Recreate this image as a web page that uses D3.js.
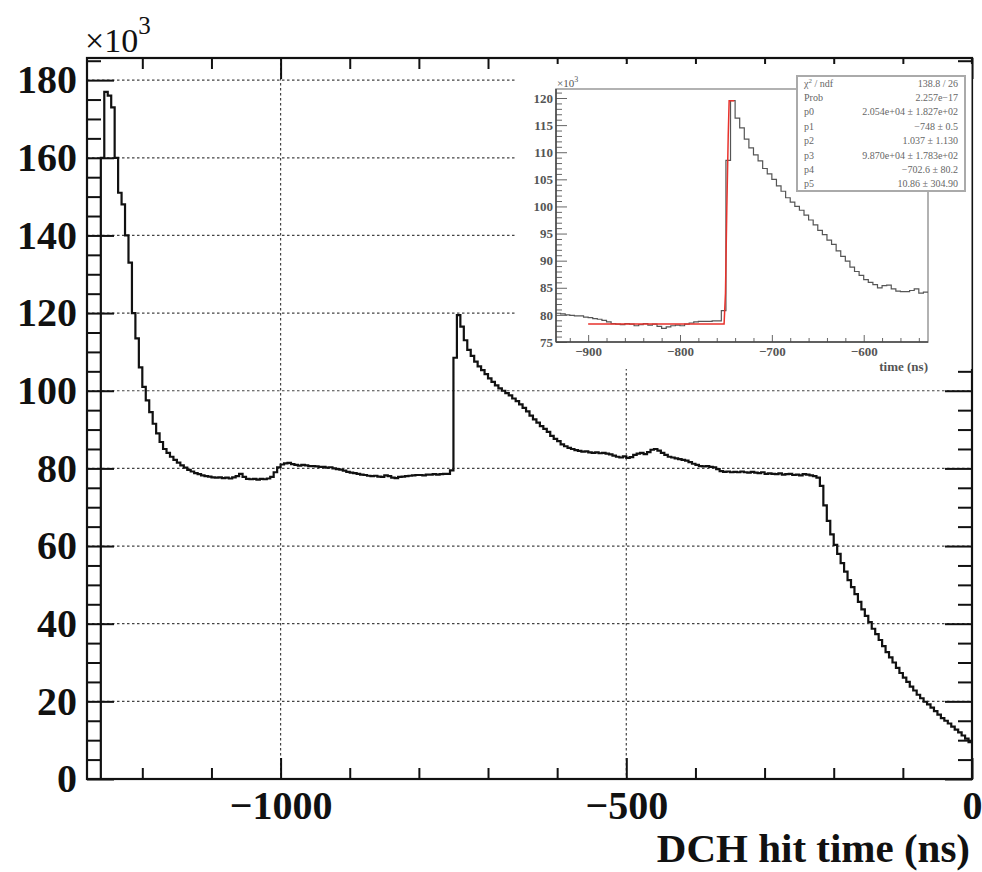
<!DOCTYPE html>
<html>
<head>
<meta charset="utf-8">
<script src="https://cdnjs.cloudflare.com/ajax/libs/d3/7.8.5/d3.min.js"></script>
<style>
body { margin: 0; background: #fff; }
</style>
</head>
<body>
<div id="chart"></div>
<script>
// main histogram, 5 ns bins starting at -1280 ns, counts in units of 10^3
var mainStart = -1280;
var mainBinWidth = 5;
var mainCounts = [
    0, 0, 0, 0, 160, 177, 176, 173, 160, 151,
    148, 140, 133, 120, 113.5, 106, 101, 97.5, 94.5, 91.5,
    89, 86.8, 85.0, 84.0, 83.0, 82.2, 81.5, 80.8, 80.2, 79.6,
    79.2, 78.8, 78.5, 78.2, 78.0, 77.9, 77.7, 77.6, 77.7, 77.5,
    77.6, 77.4, 77.7, 78.0, 78.6, 77.8, 77.3, 77.2, 77.3, 77.1,
    77.3, 77.2, 77.4, 77.8, 79.0, 80.3, 81.0, 81.3, 81.4, 81.1,
    80.9, 80.7, 80.9, 80.8, 80.6, 80.6, 80.5, 80.4, 80.4, 80.2,
    80.3, 80.0, 79.8, 79.7, 79.4, 79.1, 78.9, 78.8, 78.6, 78.4,
    78.3, 78.1, 78.0, 78.1, 77.9, 77.8, 78.2, 78.0, 77.6, 77.5,
    77.8, 77.9, 78.0, 78.1, 78.2, 78.3, 78.3, 78.2, 78.4, 78.4,
    78.5, 78.4, 78.5, 78.6, 78.6, 79.5, 108.5, 119.5, 116.5, 113,
    110.5, 109, 107.5, 106.3, 105.3, 104.3, 103.2, 102.3, 101.4, 100.6,
    100.0, 99.4, 98.8, 98.0, 97.3, 96.5, 95.6, 94.7, 93.6, 92.6,
    91.8, 90.9, 90.2, 89.4, 88.4, 87.6, 87.0, 86.2, 85.7, 85.3,
    85.0, 84.7, 84.5, 84.3, 84.4, 84.1, 84.0, 84.1, 83.9, 84.0,
    83.8, 83.6, 83.3, 83.0, 82.8, 83.1, 82.7, 82.9, 83.5, 83.8,
    84.0, 83.7, 84.2, 84.8, 85.0, 84.6, 84.0, 83.5, 83.0, 82.8,
    82.6, 82.4, 82.2, 82.0, 81.6, 81.2, 80.9, 80.6, 80.5, 80.6,
    80.4, 80.3, 79.8, 79.3, 79.1, 79.2, 79.0, 79.1, 79.0, 79.2,
    79.0, 78.9, 79.1, 78.9, 78.8, 79.0, 78.6, 78.7, 78.6, 78.5,
    78.7, 78.4, 78.5, 78.6, 78.3, 78.4, 78.2, 78.5, 78.4, 78.2,
    78.0, 77.6, 75.5, 70.5, 66.5, 63.0, 60.3, 58.0, 55.6, 53.4,
    51.2, 49.4, 47.6, 45.6, 43.7, 42.0, 40.4, 38.7, 37.3, 35.8,
    34.2, 32.7, 31.3, 30.0, 28.6, 27.3, 26.1, 25.0, 23.8, 22.8,
    21.7, 20.8, 19.9, 19.2, 18.4, 17.5, 16.6, 15.7, 15.0, 14.3,
    13.5, 12.7, 12.0, 11.2, 10.4, 9.5
];
var mainXTicks = [-1000, -500, 0];
var mainYTicks = [0, 20, 40, 60, 80, 100, 120, 140, 160, 180];
var mainXLabel = "DCH hit time (ns)";

// inset: zoom on the edge, 5 ns bins starting at -935 ns
var insetStart = -935;
var insetBinWidth = 5;
var insetCounts = [
    80.3, 80.2, 80.0, 79.9, 79.8, 79.8, 79.6, 79.5, 79.3, 79.2,
    79.0, 78.7, 78.4, 78.3, 78.2, 78.4, 78.3, 78.0, 78.2, 78.4,
    78.1, 78.3, 77.9, 77.5, 77.8, 78.0, 78.1, 78.0, 78.3, 78.5,
    78.7, 78.8, 78.8, 78.8, 78.9, 78.9, 80.8, 108.5, 119.5, 116.3,
    114.5, 112.4, 110.8, 109.5, 108.4, 107.0, 106.0, 105.0, 103.8, 102.8,
    101.6, 100.8, 100.0, 99.3, 98.4, 97.5, 96.6, 95.6, 94.8, 93.8,
    93.0, 91.8, 90.8, 89.9, 88.8, 88.0, 87.3, 86.5, 86.0, 85.6,
    85.0, 85.4, 85.5, 84.8, 84.4, 84.3, 84.3, 84.5, 84.8, 84.0,
    84.2
];
var insetXTicks = [-900, -800, -700, -600];
var insetYTicks = [75, 80, 85, 90, 95, 100, 105, 110, 115, 120];
var insetXLabel = "time (ns)";

// fitted edge function (red)
var fitTimes = [-900, -800, -752, -750.5, -749, -747.5, -746.5, -741];
var fitValues = [78.3, 78.3, 78.3, 84, 100, 113, 119.5, 119.5];

var statLabels = ["/ ndf", "Prob", "p0", "p1", "p2", "p3", "p4", "p5"];
var statValues = ["138.8 / 26", "2.257e\u221217", "2.054e+04 \u00b1 1.827e+02", "\u2212748 \u00b1 0.5",
                  "1.037 \u00b1 1.130", "9.870e+04 \u00b1 1.783e+02", "\u2212702.6 \u00b1 80.2", "10.86 \u00b1 304.90"];

function histPoints(start, width, counts) {
    var pts = counts.map(function(c, i){
        return [start + i * width, c];
    });
    pts.push([start + counts.length * width, counts[counts.length - 1]]);
    return pts;
}

function init(){

    var w = 982;
    var h = 872;
    var left = 87, right = 972, top = 58, bottom = 779;
    var serif = "'Liberation Serif', 'Times New Roman', serif";
    var intFormat = d3.format("d");

    var svg = d3.select("#chart")
                .append("svg")
                .attr("width", w)
                .attr("height", h);

    var xScale = d3.scaleLinear()
                    .domain([mainStart, 0])
                    .range([left, right]);
    var yScale = d3.scaleLinear()
                    .domain([0, 185.7])
                    .range([bottom, top]);

    // dotted grid
    svg.append("g").selectAll("line")
        .data(mainYTicks.slice(1))
        .enter()
        .append("line")
        .attr("x1", left).attr("x2", right)
        .attr("y1", function(d){ return yScale(d); })
        .attr("y2", function(d){ return yScale(d); })
        .attr("stroke", "#444")
        .attr("stroke-width", 1.2)
        .attr("stroke-dasharray", "2.5,2.5");

    svg.append("g").selectAll("line")
        .data(mainXTicks.slice(0, 2))
        .enter()
        .append("line")
        .attr("y1", top).attr("y2", bottom)
        .attr("x1", function(d){ return xScale(d); })
        .attr("x2", function(d){ return xScale(d); })
        .attr("stroke", "#444")
        .attr("stroke-width", 1.2)
        .attr("stroke-dasharray", "2.5,2.5");

    // histogram outline
    var line = d3.line()
                .x(function(d){ return xScale(d[0]); })
                .y(function(d){ return yScale(d[1]); })
                .curve(d3.curveStepAfter);

    svg.append("path")
        .datum(histPoints(mainStart, mainBinWidth, mainCounts))
        .attr("d", line)
        .attr("fill", "none")
        .attr("stroke", "#111")
        .attr("stroke-width", 2.2);

    // axes (ticks pointing inward on all four sides)
    var xMinor = d3.range(-1200, 0, 100).filter(function(d){ return mainXTicks.indexOf(d) < 0; });
    var yMinor = d3.range(0, 186, 5).filter(function(d){ return mainYTicks.indexOf(d) < 0; });

    function styleAxis(g, size) {
        g.attr("font-family", serif)
         .attr("font-size", size)
         .attr("font-weight", "bold");
        g.select(".domain").remove();
        g.selectAll("line").attr("stroke", "#111").attr("stroke-width", 2);
        g.selectAll("text").attr("fill", "#111");
    }

    svg.append("g")
        .attr("transform", "translate(0," + bottom + ")")
        .call(d3.axisBottom(xScale).tickValues(mainXTicks).tickFormat(intFormat)
                .tickSize(-21).tickSizeOuter(0).tickPadding(12))
        .call(styleAxis, 40);
    svg.append("g")
        .attr("transform", "translate(0," + bottom + ")")
        .call(d3.axisBottom(xScale).tickValues(xMinor).tickSize(-11).tickSizeOuter(0).tickFormat(""))
        .call(styleAxis, 40);
    svg.append("g")
        .attr("transform", "translate(0," + top + ")")
        .call(d3.axisTop(xScale).tickValues(mainXTicks).tickSize(-21).tickSizeOuter(0).tickFormat(""))
        .call(styleAxis, 40);
    svg.append("g")
        .attr("transform", "translate(0," + top + ")")
        .call(d3.axisTop(xScale).tickValues(xMinor).tickSize(-11).tickSizeOuter(0).tickFormat(""))
        .call(styleAxis, 40);

    svg.append("g")
        .attr("transform", "translate(" + left + ",0)")
        .call(d3.axisLeft(yScale).tickValues(mainYTicks).tickFormat(intFormat)
                .tickSize(-27).tickSizeOuter(0).tickPadding(10))
        .call(styleAxis, 40);
    svg.append("g")
        .attr("transform", "translate(" + left + ",0)")
        .call(d3.axisLeft(yScale).tickValues(yMinor).tickSize(-14).tickSizeOuter(0).tickFormat(""))
        .call(styleAxis, 40);
    svg.append("g")
        .attr("transform", "translate(" + right + ",0)")
        .call(d3.axisRight(yScale).tickValues(mainYTicks).tickSize(-27).tickSizeOuter(0).tickFormat(""))
        .call(styleAxis, 40);
    svg.append("g")
        .attr("transform", "translate(" + right + ",0)")
        .call(d3.axisRight(yScale).tickValues(yMinor).tickSize(-14).tickSizeOuter(0).tickFormat(""))
        .call(styleAxis, 40);

    svg.append("rect")
        .attr("x", left).attr("y", top)
        .attr("width", right - left).attr("height", bottom - top)
        .attr("fill", "none")
        .attr("stroke", "#111")
        .attr("stroke-width", 2.2);

    // x10^3 multiplier
    var mult = svg.append("text")
        .attr("x", left - 2).attr("y", 52)
        .attr("font-family", serif)
        .attr("font-size", 34)
        .attr("fill", "#111")
        .text("\u00d710");
    mult.append("tspan").attr("dy", -18).attr("font-size", 25).text("3");

    svg.append("text")
        .attr("x", 970).attr("y", 862)
        .attr("text-anchor", "end")
        .attr("font-family", serif)
        .attr("font-size", 41)
        .attr("font-weight", "bold")
        .attr("fill", "#111")
        .text(mainXLabel);

    // ---------- inset pad ----------
    var pad = svg.append("g");
    pad.append("rect")
        .attr("x", 517).attr("y", 64)
        .attr("width", 454.5).attr("height", 305)
        .attr("fill", "#fff");

    var iLeft = 556, iRight = 928, iTop = 89, iBottom = 342;
    var xi = d3.scaleLinear().domain([insetStart, -530]).range([iLeft, iRight]);
    var yi = d3.scaleLinear().domain([75, 121.66]).range([iBottom, iTop]);

    pad.append("rect")
        .attr("x", iLeft).attr("y", iTop)
        .attr("width", iRight - iLeft).attr("height", iBottom - iTop)
        .attr("fill", "none")
        .attr("stroke", "#999")
        .attr("stroke-width", 1.5);

    var iline = d3.line()
                .x(function(d){ return xi(d[0]); })
                .y(function(d){ return yi(d[1]); })
                .curve(d3.curveStepAfter);

    pad.append("path")
        .datum(histPoints(insetStart, insetBinWidth, insetCounts))
        .attr("d", iline)
        .attr("fill", "none")
        .attr("stroke", "#555")
        .attr("stroke-width", 1.2);

    var fitLine = d3.line()
                .x(function(d){ return xi(d); })
                .y(function(d, i){ return yi(fitValues[i]); });
    pad.append("path")
        .datum(fitTimes)
        .attr("d", fitLine)
        .attr("fill", "none")
        .attr("stroke", "#e8322c")
        .attr("stroke-width", 1.5);

    var xiMinor = d3.range(-920, -530, 20).filter(function(d){ return insetXTicks.indexOf(d) < 0; });
    var yiMinor = d3.range(75, 122, 1).filter(function(d){ return insetYTicks.indexOf(d) < 0; });

    function styleInset(g) {
        g.attr("font-family", serif)
         .attr("font-size", 13)
         .attr("font-weight", "bold");
        g.select(".domain").remove();
        g.selectAll("line").attr("stroke", "#666").attr("stroke-width", 1);
        g.selectAll("text").attr("fill", "#555");
    }

    pad.append("g")
        .attr("transform", "translate(0," + iBottom + ")")
        .call(d3.axisBottom(xi).tickValues(insetXTicks).tickFormat(intFormat)
                .tickSize(-7).tickSizeOuter(0).tickPadding(5))
        .call(styleInset);
    pad.append("g")
        .attr("transform", "translate(0," + iBottom + ")")
        .call(d3.axisBottom(xi).tickValues(xiMinor).tickSize(-4).tickSizeOuter(0).tickFormat(""))
        .call(styleInset);
    pad.append("g")
        .attr("transform", "translate(" + iLeft + ",0)")
        .call(d3.axisLeft(yi).tickValues(insetYTicks).tickFormat(intFormat)
                .tickSize(-11).tickSizeOuter(0).tickPadding(3))
        .call(styleInset);
    pad.append("g")
        .attr("transform", "translate(" + iLeft + ",0)")
        .call(d3.axisLeft(yi).tickValues(yiMinor).tickSize(-6).tickSizeOuter(0).tickFormat(""))
        .call(styleInset);

    pad.append("line")
        .attr("x1", iLeft).attr("x2", iLeft)
        .attr("y1", iTop).attr("y2", iBottom)
        .attr("stroke", "#444").attr("stroke-width", 1.5);
    pad.append("line")
        .attr("x1", iLeft).attr("x2", iRight)
        .attr("y1", iBottom).attr("y2", iBottom)
        .attr("stroke", "#444").attr("stroke-width", 1.5);

    var imult = pad.append("text")
        .attr("x", iLeft + 1).attr("y", 87)
        .attr("font-family", serif)
        .attr("font-size", 11)
        .attr("fill", "#555")
        .text("\u00d710");
    imult.append("tspan").attr("dy", -5).attr("font-size", 8).text("3");

    pad.append("text")
        .attr("x", iRight).attr("y", 371)
        .attr("text-anchor", "end")
        .attr("font-family", serif)
        .attr("font-size", 13)
        .attr("font-weight", "bold")
        .attr("fill", "#555")
        .text(insetXLabel);

    // stat box
    var sx = 797, sy = 76, sw = 168, sh = 115;
    pad.append("rect")
        .attr("x", sx).attr("y", sy)
        .attr("width", sw).attr("height", sh)
        .attr("fill", "#fff")
        .attr("stroke", "#aaa")
        .attr("stroke-width", 2);

    var rowH = sh / statLabels.length;
    var rows = pad.append("g").selectAll("g")
        .data(statLabels)
        .enter()
        .append("g")
        .attr("transform", function(d, i){ return "translate(0," + (sy + rowH * (i + 0.5) + 3.5) + ")"; });

    rows.append("text")
        .attr("x", sx + 7)
        .attr("font-family", serif)
        .attr("font-size", 10)
        .attr("fill", "#666")
        .each(function(d, i){
            var t = d3.select(this);
            if (i === 0) {
                t.append("tspan").text("\u03c7");
                t.append("tspan").attr("dy", -4).attr("font-size", 7).text("2");
                t.append("tspan").attr("dy", 4).text(" " + d);
            } else {
                t.text(d);
            }
        });

    rows.append("text")
        .attr("x", sx + sw - 7)
        .attr("text-anchor", "end")
        .attr("font-family", serif)
        .attr("font-size", 10)
        .attr("fill", "#666")
        .text(function(d, i){ return statValues[i]; });
}

window.onload = init;
</script>
</body>
</html>
